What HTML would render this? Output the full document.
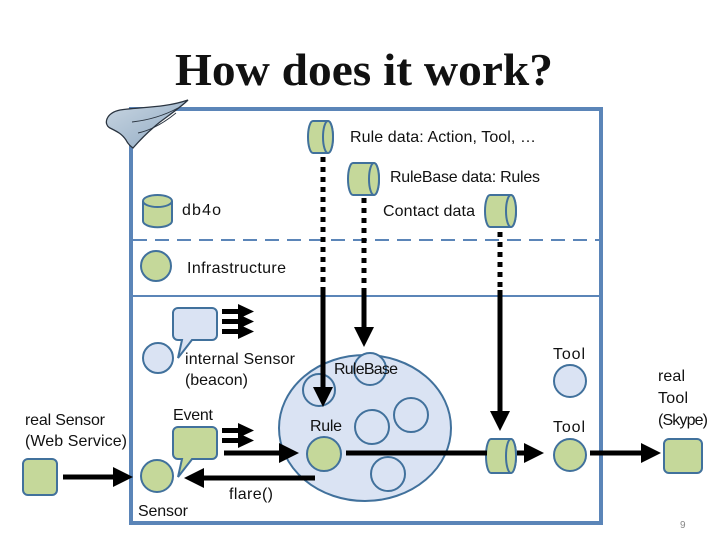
<!DOCTYPE html>
<html><head><meta charset="utf-8"><style>
html,body{margin:0;padding:0;background:#fff;}
svg{display:block;font-family:"Liberation Sans",sans-serif;}
</style></head><body>
<svg width="728" height="546" viewBox="0 0 728 546" xmlns="http://www.w3.org/2000/svg">
<defs>
<marker id="ah" markerWidth="4" markerHeight="4" refX="2.2" refY="2" orient="auto" markerUnits="strokeWidth">
<path d="M0,0 L4,2 L0,4 z" fill="#000"/></marker>
<linearGradient id="wg" x1="0" y1="0" x2="1" y2="1"><stop offset="0" stop-color="#c9d6e2"/><stop offset="1" stop-color="#8fa9c2"/></linearGradient>
</defs>
<text x="364" y="85" text-anchor="middle" font-family="Liberation Serif,serif" font-weight="bold" font-size="46" fill="#111" textLength="378" lengthAdjust="spacingAndGlyphs">How does it work?</text>
<!-- box -->
<rect x="131" y="109" width="470" height="414" fill="none" stroke="#5b85b8" stroke-width="4"/>
<line x1="133" y1="240" x2="599" y2="240" stroke="#5b85b8" stroke-width="2" stroke-dasharray="14,8"/>
<line x1="133" y1="296" x2="599" y2="296" stroke="#5b85b8" stroke-width="2"/>
<!-- wing -->
<path d="M188,100 C165,108 140,107 120,110 C106,113 103,124 110,128 C118,132 122,134 126,140 C128,144 130,146 133,148 C140,140 150,130 160,122 C172,113 182,106 188,100 Z" fill="url(#wg)" stroke="#2a3440" stroke-width="1.3"/>
<path d="M132,122 C150,120 165,115 178,108 M138,133 C152,130 165,122 176,113" fill="none" stroke="#2a3440" stroke-width="0.9"/>
<g stroke="#41719c" stroke-width="2" fill="#c5d89a">
<path d="M143,201 v20 a14,6 0 0 0 29,0 v-20"/>
<ellipse cx="157.5" cy="201" rx="14.5" ry="6"/>
<path d="M313,121 h15 a5,16 0 0 1 0,32 h-15 a5,16 0 0 1 0,-32z"/><ellipse cx="328" cy="137" rx="5" ry="16"/>
<path d="M353,163 h21 a5,16 0 0 1 0,32 h-21 a5,16 0 0 1 0,-32z"/><ellipse cx="374" cy="179" rx="5" ry="16"/>
<path d="M490,195 h21 a5,16 0 0 1 0,32 h-21 a5,16 0 0 1 0,-32z"/><ellipse cx="511" cy="211" rx="5" ry="16"/>
<path d="M491,439 h20 a5,17 0 0 1 0,34 h-20 a5,17 0 0 1 0,-34z"/><ellipse cx="511" cy="456" rx="5" ry="17"/>
<circle cx="156" cy="266" r="15"/>
<rect x="23" y="459" width="34" height="36" rx="5"/>
<rect x="664" y="439" width="38" height="34" rx="5"/>
</g>
<!-- bubbles -->
<path d="M178,308 h34 a5,5 0 0 1 5,5 v22 a5,5 0 0 1 -5,5 h-20 l-14,18 l4,-18 h-4 a5,5 0 0 1 -5,-5 v-22 a5,5 0 0 1 5,-5z" fill="#dae3f3" stroke="#41719c" stroke-width="2"/>
<circle cx="158" cy="358" r="15" fill="#dae3f3" stroke="#41719c" stroke-width="2"/>
<path d="M178,427 h34 a5,5 0 0 1 5,5 v22 a5,5 0 0 1 -5,5 h-20 l-14,18 l4,-18 h-4 a5,5 0 0 1 -5,-5 v-22 a5,5 0 0 1 5,-5z" fill="#c5d89a" stroke="#41719c" stroke-width="2"/>
<circle cx="157" cy="476" r="16" fill="#c5d89a" stroke="#41719c" stroke-width="2"/>
<!-- big circle -->
<ellipse cx="365" cy="428" rx="86" ry="73" fill="#dae3f3" stroke="#41719c" stroke-width="2"/>
<g fill="#dae3f3" stroke="#41719c" stroke-width="2">
<circle cx="370" cy="369" r="16"/><circle cx="319" cy="390" r="16"/>
<circle cx="372" cy="427" r="17"/><circle cx="411" cy="415" r="17"/>
<circle cx="388" cy="474" r="17"/><circle cx="570" cy="381" r="16"/>
</g>
<circle cx="324" cy="454" r="17" fill="#c5d89a" stroke="#41719c" stroke-width="2"/>
<circle cx="570" cy="455" r="16" fill="#c5d89a" stroke="#41719c" stroke-width="2"/>
<!-- triple arrows -->
<g fill="#000">
<rect x="222" y="309" width="18" height="5"/><path d="M238,304 L254,311.5 L238,319z"/>
<rect x="222" y="319" width="18" height="5"/><path d="M238,314 L254,321.5 L238,329z"/>
<rect x="222" y="329" width="18" height="5"/><path d="M238,324 L254,331.5 L238,339z"/>
<rect x="222" y="428" width="18" height="5"/><path d="M238,423 L254,430.5 L238,438z"/>
<rect x="222" y="438" width="18" height="5"/><path d="M238,433 L254,440.5 L238,448z"/>
</g>
<g stroke="#000" stroke-width="5" fill="none">
<line x1="323" y1="157" x2="323" y2="290" stroke-dasharray="5,5"/>
<line x1="364" y1="198" x2="364" y2="290" stroke-dasharray="5,5"/>
<line x1="500" y1="232" x2="500" y2="290" stroke-dasharray="5,5"/>
<line x1="323" y1="290" x2="323" y2="398" marker-end="url(#ah)"/>
<line x1="364" y1="290" x2="364" y2="338" marker-end="url(#ah)"/>
<line x1="500" y1="290" x2="500" y2="422" marker-end="url(#ah)"/>
<line x1="224" y1="453" x2="290" y2="453" marker-end="url(#ah)"/>
<line x1="346" y1="453" x2="487" y2="453"/>
<line x1="517" y1="453" x2="535" y2="453" marker-end="url(#ah)"/>
<line x1="590" y1="453" x2="652" y2="453" marker-end="url(#ah)"/>
<line x1="63" y1="477" x2="124" y2="477" marker-end="url(#ah)"/>
<line x1="315" y1="478" x2="193" y2="478" marker-end="url(#ah)"/>
</g>
<g font-size="16" fill="#111" lengthAdjust="spacingAndGlyphs">
<text x="350" y="142" textLength="186">Rule data: Action, Tool, …</text>
<text x="390" y="182" textLength="150">RuleBase data: Rules</text>
<text x="182" y="215" textLength="39">db4o</text>
<text x="383" y="216" textLength="92">Contact data</text>
<text x="187" y="273" textLength="99">Infrastructure</text>
<text x="185" y="364" textLength="110">internal Sensor</text>
<text x="185" y="385" textLength="63">(beacon)</text>
<text x="334" y="374" textLength="64">RuleBase</text>
<text x="553" y="359" textLength="32">Tool</text>
<text x="553" y="432" textLength="32">Tool</text>
<text x="310" y="431" textLength="32">Rule</text>
<text x="173" y="420" textLength="40">Event</text>
<text x="25" y="425" textLength="80">real Sensor</text>
<text x="25" y="446" textLength="102">(Web Service)</text>
<text x="229" y="499" textLength="44">flare()</text>
<text x="138" y="516" textLength="50">Sensor</text>
<text x="658" y="381" textLength="27">real</text>
<text x="658" y="403" textLength="30">Tool</text>
<text x="658" y="425" textLength="50">(Skype)</text>
</g>
<text x="680" y="528" font-size="10" fill="#888">9</text>
</svg>
</body></html>
